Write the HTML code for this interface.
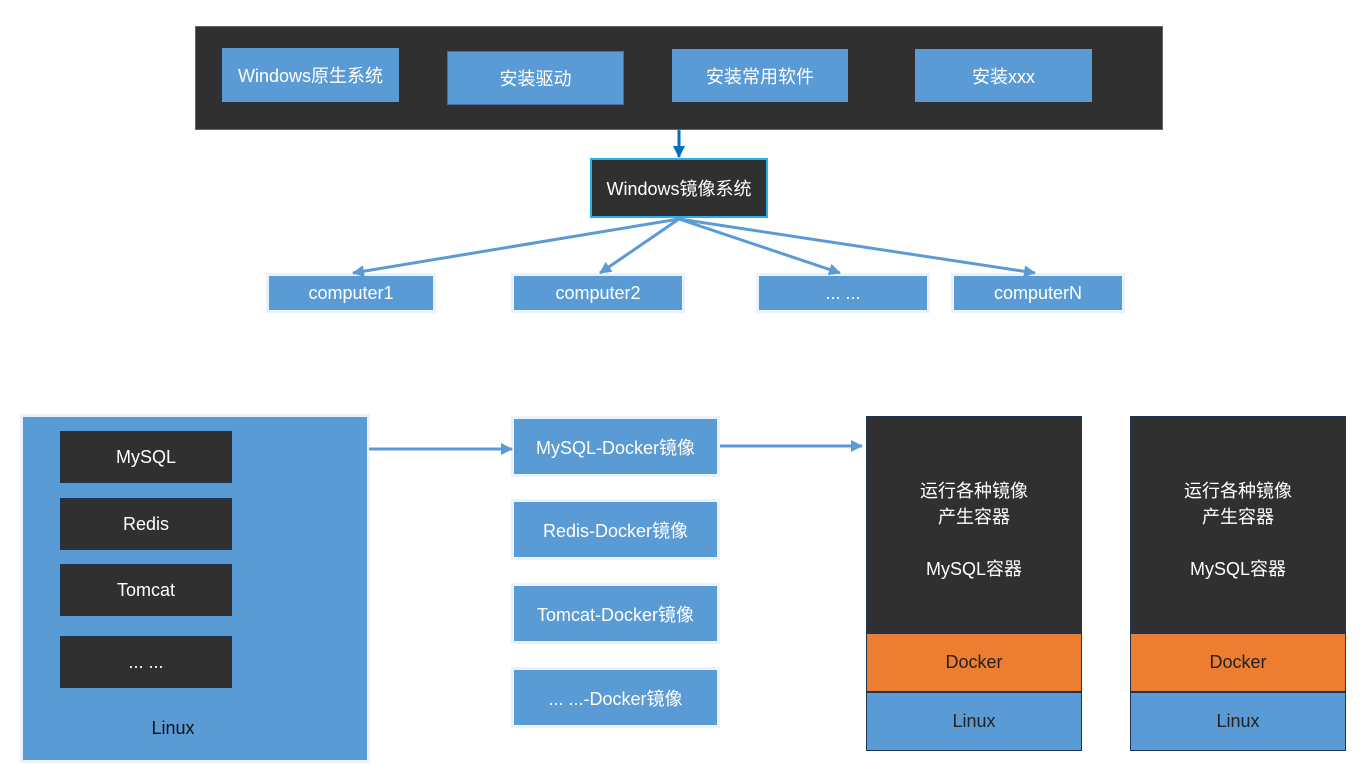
<!DOCTYPE html>
<html><head><meta charset="utf-8"><style>
body{margin:0;width:1366px;height:766px;background:#fff;position:relative;overflow:hidden;font-family:"Liberation Sans","Noto Sans CJK SC",sans-serif;}
.b{position:absolute;display:flex;align-items:center;justify-content:center;box-sizing:border-box;text-align:center;font-size:18px;color:#fff;}
.bl{background:#5b9bd5;}
.dk{background:#303030;}
.gl{box-shadow:0 0 0 3px #eaf2fc;}
</style></head><body>
<div class="b dk" style="left:195px;top:26px;width:968px;height:104px;border:1px solid #666"></div>
<div class="b bl" style="left:222px;top:48px;width:177px;height:54px">Windows原生系统</div>
<div class="b bl" style="left:447px;top:51px;width:177px;height:54px;border:1px solid #4a6f99">安装驱动</div>
<div class="b bl" style="left:672px;top:49px;width:176px;height:53px">安装常用软件</div>
<div class="b bl" style="left:915px;top:49px;width:177px;height:53px">安装xxx</div>
<div class="b dk" style="left:590px;top:158px;width:178px;height:60px;border:2px solid #2ab0e8">Windows镜像系统</div>
<div class="b bl gl" style="left:269px;top:276px;width:164px;height:34px">computer1</div>
<div class="b bl gl" style="left:514px;top:276px;width:168px;height:34px">computer2</div>
<div class="b bl gl" style="left:759px;top:276px;width:168px;height:34px">... ...</div>
<div class="b bl gl" style="left:954px;top:276px;width:168px;height:34px">computerN</div>

<div class="b bl gl" style="left:23px;top:417px;width:344px;height:343px"></div>
<div class="b dk" style="left:60px;top:431px;width:172px;height:52px;border:1px solid #1f3354">MySQL</div>
<div class="b dk" style="left:60px;top:498px;width:172px;height:52px;border:1px solid #1f3354">Redis</div>
<div class="b dk" style="left:60px;top:564px;width:172px;height:52px;border:1px solid #1f3354">Tomcat</div>
<div class="b dk" style="left:60px;top:636px;width:172px;height:52px;border:1px solid #1f3354">... ...</div>
<div class="b" style="left:23px;top:714px;width:300px;height:28px;color:#111">Linux</div>

<div class="b bl gl" style="left:514px;top:419px;width:203px;height:55px">MySQL-Docker镜像</div>
<div class="b bl gl" style="left:514px;top:502px;width:203px;height:55px">Redis-Docker镜像</div>
<div class="b bl gl" style="left:514px;top:586px;width:203px;height:55px">Tomcat-Docker镜像</div>
<div class="b bl gl" style="left:514px;top:670px;width:203px;height:55px">... ...-Docker镜像</div>

<div class="b dk" style="left:866px;top:416px;width:216px;height:217px;border:1px solid #1f3354;line-height:26px;flex-direction:column;padding-top:10px">运行各种镜像<br>产生容器<br><br>MySQL容器</div>
<div class="b" style="left:866px;top:633px;width:216px;height:59px;background:#ed7d31;border:1px solid #1f3354;color:#222">Docker</div>
<div class="b bl" style="left:866px;top:692px;width:216px;height:59px;border:1px solid #1f3354;color:#222">Linux</div>
<div class="b dk" style="left:1130px;top:416px;width:216px;height:217px;border:1px solid #1f3354;line-height:26px;flex-direction:column;padding-top:10px">运行各种镜像<br>产生容器<br><br>MySQL容器</div>
<div class="b" style="left:1130px;top:633px;width:216px;height:59px;background:#ed7d31;border:1px solid #1f3354;color:#222">Docker</div>
<div class="b bl" style="left:1130px;top:692px;width:216px;height:59px;border:1px solid #1f3354;color:#222">Linux</div>

<svg width="1366" height="766" style="position:absolute;left:0;top:0">
<defs>
<marker id="a" markerWidth="12" markerHeight="12" refX="11" refY="6" orient="auto" markerUnits="userSpaceOnUse"><path d="M0,0 L12,6 L0,12 z" fill="#5b9bd5"/></marker>
<marker id="c" markerWidth="12" markerHeight="12" refX="11" refY="6" orient="auto" markerUnits="userSpaceOnUse"><path d="M0,0 L12,6 L0,12 z" fill="#0070c0"/></marker>
</defs>
<line x1="679" y1="130" x2="679" y2="157" stroke="#0070c0" stroke-width="3" marker-end="url(#c)"/>
<g stroke="#5b9bd5" stroke-width="3" marker-end="url(#a)">
<line x1="679" y1="219" x2="353" y2="273"/>
<line x1="679" y1="219" x2="600" y2="273"/>
<line x1="679" y1="219" x2="840" y2="273"/>
<line x1="679" y1="219" x2="1035" y2="273"/>
<line x1="369" y1="449" x2="512" y2="449"/>
<line x1="720" y1="446" x2="862" y2="446"/>
</g>
</svg>
</body></html>
